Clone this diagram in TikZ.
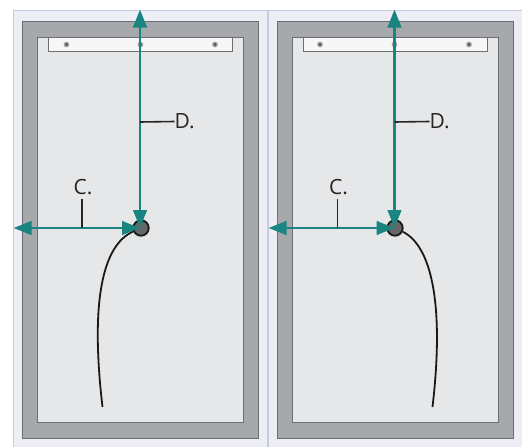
\documentclass[tikz,border=0pt]{standalone}
\usepackage{fontspec}
\setmainfont{Open Sans}
\usetikzlibrary{arrows.meta,positioning,calc}
\definecolor{panelfill}{HTML}{EDEEF5}
\definecolor{panelline}{HTML}{C6CAE0}
\definecolor{framefill}{HTML}{A7A8AB}
\definecolor{frameline}{HTML}{6D6E71}
\definecolor{innerfill}{HTML}{E6E7E9}
\definecolor{teal}{HTML}{1A8480}
\tikzset{
    panel/.style={draw=panelline, fill=panelfill, line width=1pt, inner sep=0pt, outer sep=0pt, anchor=north west},
    frame/.style={draw=frameline, fill=framefill, line width=1pt, inner sep=0pt, outer sep=0pt, minimum width=236pt, minimum height=417.5pt, anchor=north west},
    inner/.style={draw=frameline, fill=innerfill, line width=1pt, inner sep=0pt, outer sep=0pt, minimum width=205.5pt, minimum height=385pt, anchor=north west},
    bar/.style={draw=frameline, fill=white!97!black, line width=1pt, inner sep=0pt, outer sep=0pt, minimum width=184pt, minimum height=14pt, anchor=north west},
    screw/.style={circle, draw=black!35, fill=black!65, line width=1.2pt, inner sep=0pt, minimum size=4.5pt},
    hole/.style={circle, draw=black!90, fill=black!60, line width=1.8pt, inner sep=0pt, minimum size=15.5pt},
    measure/.style={draw=teal, line width=2.8pt, {Triangle[length=18pt,width=13.5pt]}-{Triangle[length=18pt,width=13.5pt]}},
    leader/.style={draw=black!85, line width=1.6pt},
    cable/.style={draw=black!90, line width=1.8pt},
    tag/.style={font=\fontsize{21}{21}\selectfont, text=black!85, inner sep=0pt}
}
\begin{document}
\begin{tikzpicture}[x=1pt, y=-1pt]
    \useasboundingbox (0,0) rectangle (522,447);
    \fill[white] (0,0) rectangle (522,447);

    % left side
    \node (panelL) [panel, minimum width=254pt, minimum height=437.5pt] at (13,10) {};
    \node (frameL) [frame] at (22.5,21) {};
    \node (innerL) [inner] at (37.5,37) {};
    \node (barL) [bar] at (48,37) {};
    \node (screwLa) [screw] at (66.5,44.5) {};
    \node (screwLb) [screw] at (140.5,44.5) {};
    \node (screwLc) [screw] at (215,44.5) {};
    \node (holeL) [hole] at (141,228) {};
    \coordinate (topL) at (140,9.5);
    \coordinate (sideL) at (13.5,228);
    \coordinate (endL) at (102.5,407);
    \draw [cable] (holeL) .. controls (103,245) and (90,300) .. (endL);
    \draw [measure] (140,228) -- (topL);
    \draw [measure] (140,228) -- (sideL);
    \node (tagCL) [tag] at (83,187) {C.};
    \node (tagDL) [tag, anchor=west] at (174.5,121.5) {D.};
    \coordinate (footCL) at (82,228);
    \coordinate (footDL) at (140,122);
    \draw [leader] (82,199) -- (footCL);
    \draw [leader] (footDL) -- (tagDL.west);

    % right side
    \node (panelR) [panel, minimum width=256pt, minimum height=437.5pt] at (268,10) {};
    \node (frameR) [frame] at (277.5,21) {};
    \node (innerR) [inner] at (292.5,37) {};
    \node (barR) [bar] at (303,37) {};
    \node (screwRa) [screw] at (320,44.5) {};
    \node (screwRb) [screw] at (394.5,44.5) {};
    \node (screwRc) [screw] at (469,44.5) {};
    \node (holeR) [hole] at (395,228) {};
    \coordinate (topR) at (394.5,9.5);
    \coordinate (sideR) at (268.5,228);
    \coordinate (endR) at (432.5,407);
    \draw [cable] (holeR) .. controls (430,245) and (445,300) .. (endR);
    \draw [measure] (394.5,228) -- (topR);
    \draw [measure] (394.5,228) -- (sideR);
    \node (tagCR) [tag] at (338.5,187) {C.};
    \node (tagDR) [tag, anchor=west] at (429.5,121.5) {D.};
    \coordinate (footCR) at (337.5,228);
    \coordinate (footDR) at (394.5,122);
    \draw [leader] (337.5,199) -- (footCR);
    \draw [leader] (footDR) -- (tagDR.west);
\end{tikzpicture}
\end{document}
